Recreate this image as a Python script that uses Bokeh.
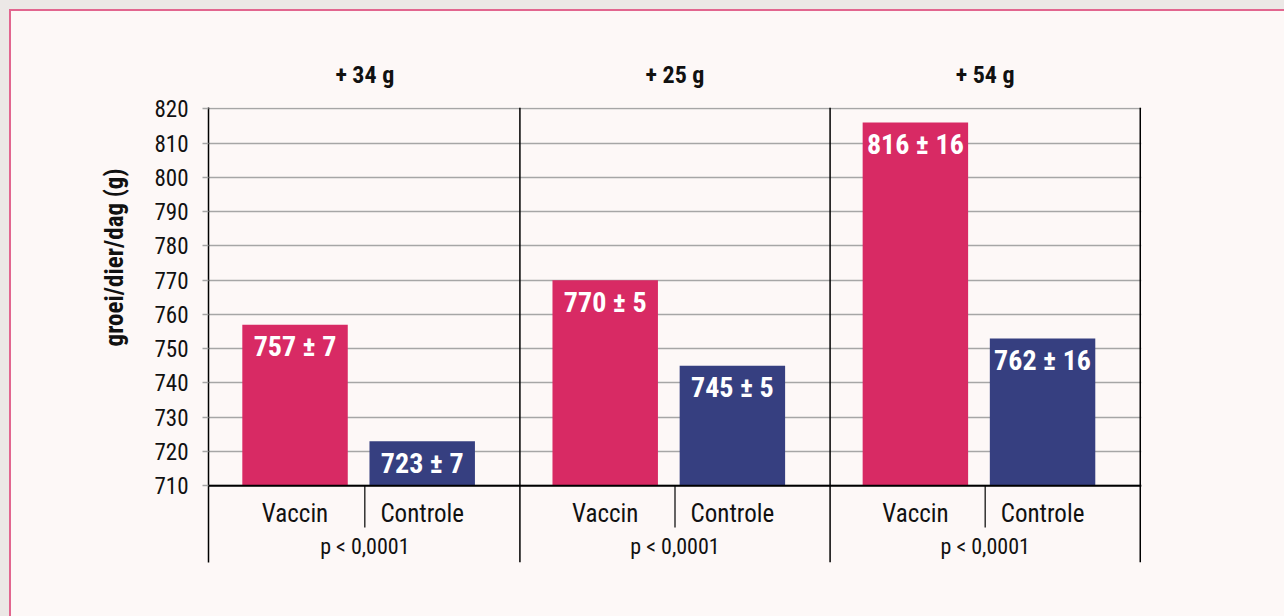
from bokeh.plotting import figure
from bokeh.models import (Range1d, FixedTicker, LinearAxis, Span,
                          ColumnDataSource)
from bokeh.core.properties import value
from bokeh.embed import file_html
from bokeh.resources import INLINE

# ---- data ----
groups = ["+ 34 g", "+ 25 g", "+ 54 g"]
categories = ["Vaccin", "Controle"]
vaccin = [757, 770, 816]
controle = [723, 745, 753]
vaccin_labels = ["757 ± 7", "770 ± 5", "816 ± 16"]
controle_labels = ["723 ± 7", "745 ± 5", "762 ± 16"]
p_labels = ["p < 0,0001", "p < 0,0001", "p < 0,0001"]
y_ticks = [710, 720, 730, 740, 750, 760, 770, 780, 790, 800, 810, 820]
y_title = "groei/dier/dag (g)"

BG = "#FDF8F7"
PINK = "#D82A64"
NAVY = "#363F80"
GRID = "#A6A6A6"
EDGE = "#E2668F"
FONT = "'Roboto Condensed', 'Liberation Sans Narrow', Roboto, sans-serif"

base = 710
px_per_unit = 378 / 110.0
y_start = base - 77 / px_per_unit

p = figure(width=1284, height=616, output_backend="svg", toolbar_location=None,
           x_range=Range1d(-0.004, 3.004), y_range=Range1d(y_start, 820.4),
           x_axis_location=None, y_axis_location="left",
           min_border_left=208, min_border_right=143, min_border_top=107,
           min_border_bottom=54,
           background_fill_color=BG, border_fill_color=None)
p.outline_line_color = None
p.styles = {
    "background": (
        f"linear-gradient({EDGE},{EDGE}) 9px 9px / 100% 2px no-repeat, "
        f"linear-gradient({EDGE},{EDGE}) 9px 9px / 2px 100% no-repeat, "
        f"linear-gradient({BG},{BG}) 9px 9px / 100% 100% no-repeat, "
        "#ECE8E6"
    )
}

n = len(groups)
idx = list(range(n))
off_v, off_c, bw = 0.275, 0.685, 0.34

src = ColumnDataSource(dict(
    xv=[i + off_v for i in idx], xc=[i + off_c for i in idx],
    vaccin=vaccin, controle=controle,
    vl=vaccin_labels, cl=controle_labels,
    xm=[i + 0.5 for i in idx], pl=p_labels,
    catv=[categories[0]] * n, catc=[categories[1]] * n,
    base=[base] * n, tick_end=[base - 42 / px_per_unit] * n,
))

# y axis
yt = FixedTicker(ticks=y_ticks)
p.yaxis.ticker = yt
p.yaxis.axis_line_color = "black"
p.yaxis.axis_line_width = 1.5
p.yaxis.major_tick_out = 6
p.yaxis.major_tick_in = 0
p.yaxis.major_tick_line_color = GRID
p.yaxis.major_tick_line_width = 1.5
p.yaxis.minor_tick_line_color = None
p.yaxis.major_label_text_font = FONT
p.yaxis.major_label_text_font_size = "23px"
p.yaxis.major_label_text_color = "#111111"
p.yaxis.major_label_standoff = 14

p.ygrid.ticker = yt
p.ygrid.grid_line_color = GRID
p.ygrid.grid_line_width = 1.5
p.xgrid.grid_line_color = None

# y title: a label-only axis so it sits beside the upper part of the axis
title_pos = 820 - 149 / px_per_unit
ytitle = LinearAxis(ticker=FixedTicker(ticks=[title_pos]),
                    major_label_overrides={title_pos: y_title},
                    major_label_orientation="vertical")
ytitle.axis_line_color = None
ytitle.major_tick_line_color = None
ytitle.minor_tick_line_color = None
ytitle.major_tick_out = 0
ytitle.major_tick_in = 0
ytitle.major_label_standoff = 22
ytitle.major_label_text_font = FONT
ytitle.major_label_text_font_style = "bold"
ytitle.major_label_text_font_size = "25px"
ytitle.major_label_text_color = "#111111"
p.add_layout(ytitle, "left")

# group headers on top axis
top = LinearAxis(ticker=FixedTicker(ticks=[i + 0.5 for i in idx]),
                 major_label_overrides={i + 0.5: g for i, g in zip(idx, groups)})
top.axis_line_color = None
top.major_tick_line_color = None
top.minor_tick_line_color = None
top.major_label_text_font = FONT
top.major_label_text_font_style = "bold"
top.major_label_text_font_size = "24px"
top.major_label_text_color = "#111111"
top.major_label_standoff = 13
p.add_layout(top, "above")

# bars
p.vbar(x="xv", width=bw, bottom="base", top="vaccin", source=src,
       fill_color=PINK, line_color=None)
p.vbar(x="xc", width=bw, bottom="base", top="controle", source=src,
       fill_color=NAVY, line_color=None)

# baseline and separators
p.add_layout(Span(location=base, dimension="width", line_color="black", line_width=2))
for i in range(1, n + 1):
    p.add_layout(Span(location=i, dimension="height", line_color="black", line_width=1.5))
p.segment(x0="xm", y0="base", x1="xm", y1="tick_end", source=src,
          line_color="black", line_width=1.2)

# value labels
for xcol, ycol, tcol in (("xv", "vaccin", "vl"), ("xc", "controle", "cl")):
    p.text(x=xcol, y=ycol, text=tcol, source=src, text_color="white",
           text_font=value(FONT), text_font_style="bold", text_font_size="28px",
           text_align="center", text_baseline="middle", y_offset=22)

# category labels and p-values
for xcol, tcol in (("xv", "catv"), ("xc", "catc")):
    p.text(x=xcol, y="base", text=tcol, source=src, text_color="#111111",
           text_font=value(FONT), text_font_size="25px",
           text_align="center", text_baseline="middle", y_offset=28)
p.text(x="xm", y="base", text="pl", source=src, text_color="#111111",
       text_font=value(FONT), text_font_size="22px",
       text_align="center", text_baseline="middle", y_offset=61)

open("out.html", "w").write(file_html(p, INLINE))
